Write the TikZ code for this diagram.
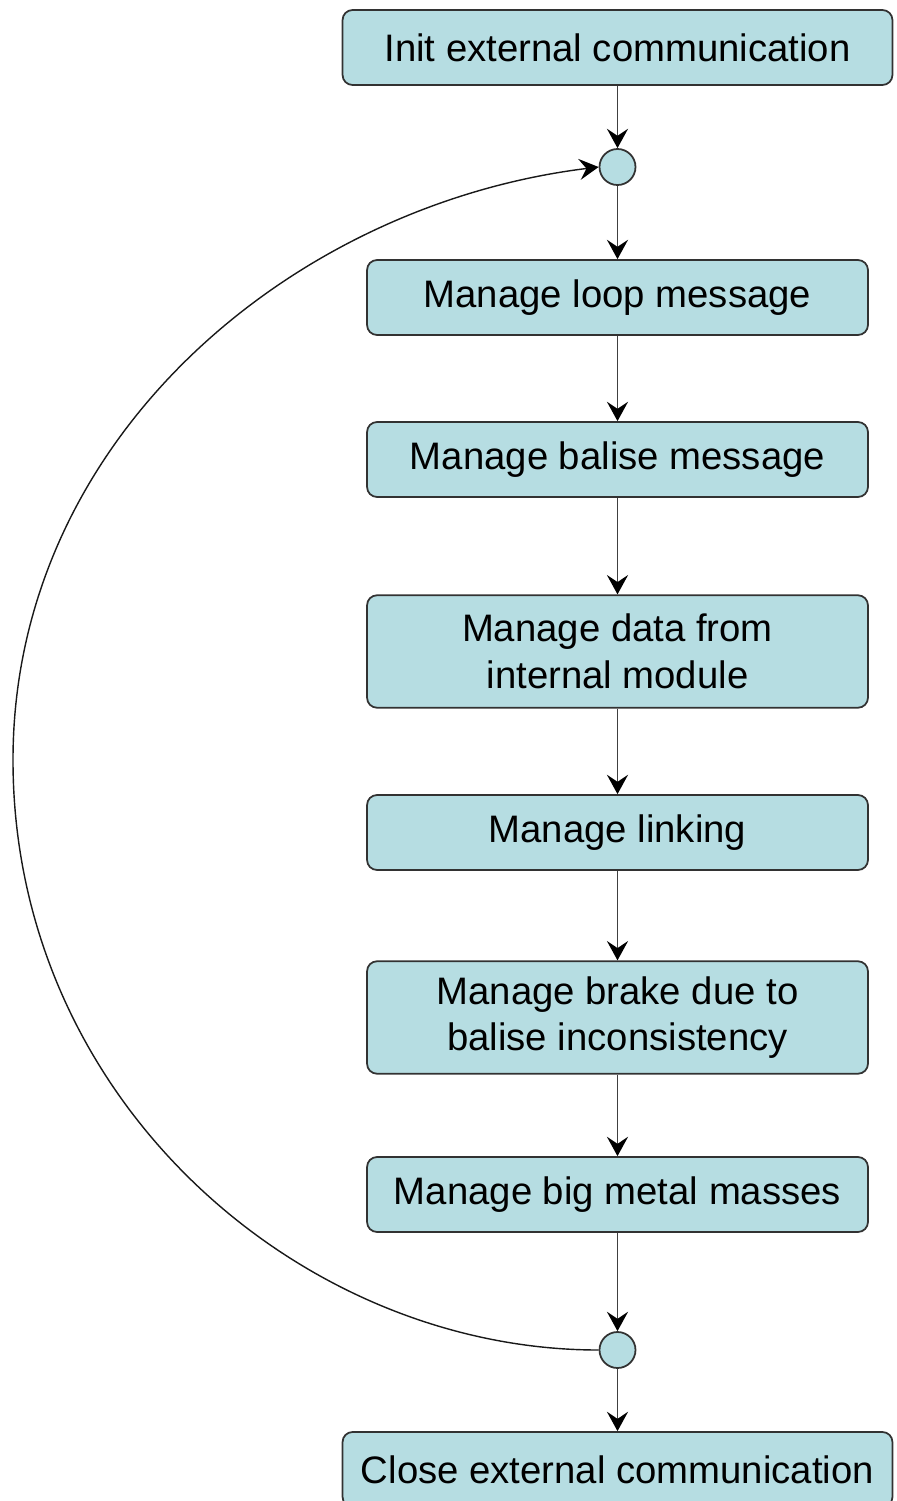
\documentclass[tikz,border=0pt]{standalone}
\usepackage{fontspec}
\setmainfont{Liberation Sans}
\usetikzlibrary{arrows.meta}

\definecolor{boxfill}{RGB}{182,221,226}
\definecolor{boxline}{RGB}{50,50,50}

\tikzset{
  proc/.style={draw=boxline, fill=boxfill, rounded corners=0.2cm, line width=1pt,
    minimum width=10.02cm, minimum height=1.5cm, inner sep=0pt, align=center,
    font=\fontsize{21.8}{26.5}\selectfont},
  wide/.style={minimum width=11cm},
  tall/.style={minimum height=2.25cm},
  junc/.style={circle, draw=boxline, fill=boxfill, line width=1pt,
    minimum size=0.72cm, inner sep=0pt},
  flow/.style={draw=black!75, line width=1pt,
    -{Stealth[length=11pt,width=12pt,inset=4pt,color=black]}}
}

\begin{document}
\begin{tikzpicture}[x=0.02cm, y=-0.02cm]
	\useasboundingbox (0,0) rectangle (896,1501);
	% steps
	\node[proc, wide] (init) at (617.5,47.5) {Init external communication};
	\node[junc] (start) at (617.5,167) {};
	\node[proc] (loopmsg) at (617.5,297.5) {Manage loop message};
	\node[proc] (balisemsg) at (617.5,459.5) {Manage balise message};
	\node[proc, tall] (datamod) at (617.5,651.5) {Manage data from\\internal module};
	\node[proc] (linking) at (617.5,832.5) {Manage linking};
	\node[proc, tall] (brake) at (617.5,1017.5) {Manage brake due to\\balise inconsistency};
	\node[proc] (masses) at (617.5,1194.5) {Manage big metal masses};
	\node[junc] (stop) at (617.5,1350) {};
	\node[proc, wide] (close) at (617.5,1469.5) {Close external communication};
	% arrows
	\draw[flow] (init) -- (start);
	\draw[flow] (start) -- (loopmsg);
	\draw[flow] (loopmsg) -- (balisemsg);
	\draw[flow] (balisemsg) -- (datamod);
	\draw[flow] (datamod) -- (linking);
	\draw[flow] (linking) -- (brake);
	\draw[flow] (brake) -- (masses);
	\draw[flow] (masses) -- (stop);
	\draw[flow] (stop) -- (close);
	% back to the start
	\coordinate (far) at (13,760);
	\draw[flow, draw=black!90, line width=0.8pt] (stop.west) .. controls (300,1350) and (13,1100) .. (far)
		.. controls (13,440) and (290,205) .. (start.west);
\end{tikzpicture}
\end{document}
